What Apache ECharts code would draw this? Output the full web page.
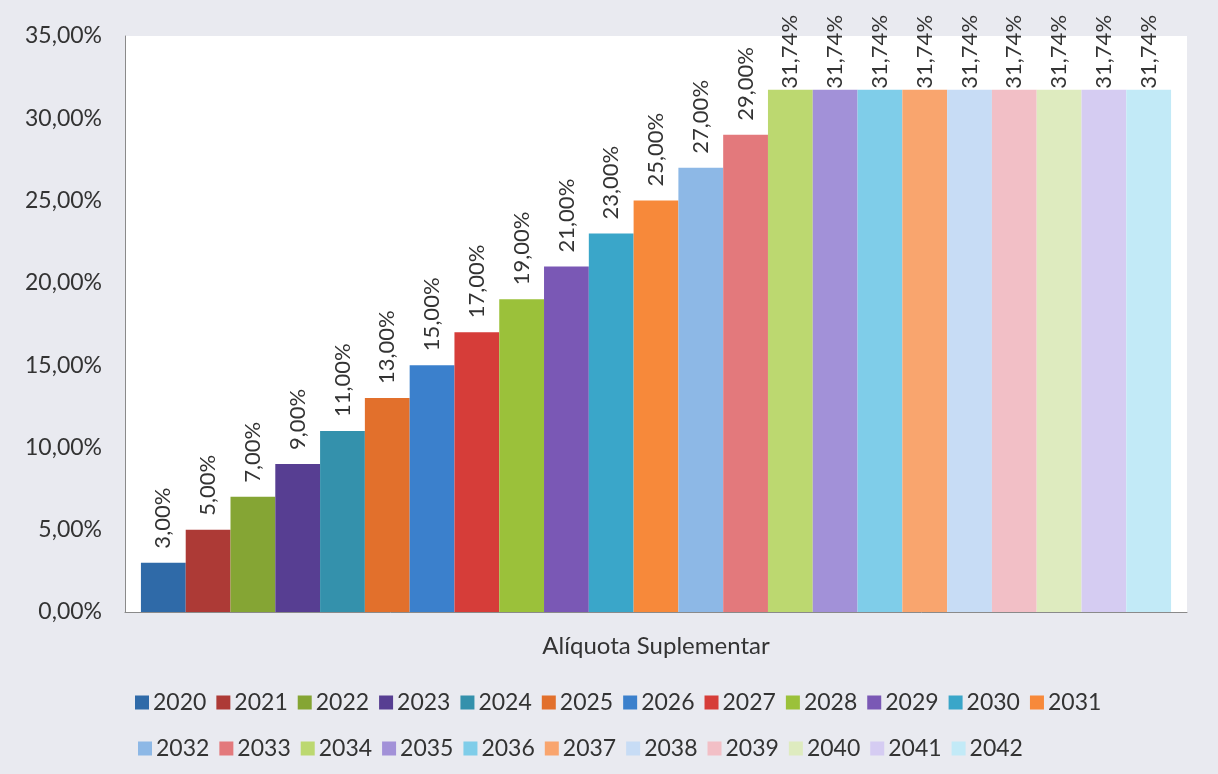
<!DOCTYPE html>
<html>
<head>
<meta charset="utf-8">
<script src="https://cdn.jsdelivr.net/npm/echarts@6/dist/echarts.min.js"></script>
<style>
html,body{margin:0;padding:0;background:#e9eaf0;}
#main{width:1218px;height:774px;}
</style>
</head>
<body>
<div id="main"></div>
<script>
const category = ['Alíquota Suplementar'];
const years = ['2020','2021','2022','2023','2024','2025','2026','2027','2028','2029','2030','2031','2032','2033','2034','2035','2036','2037','2038','2039','2040','2041','2042'];
const values = [3, 5, 7, 9, 11, 13, 15, 17, 19, 21, 23, 25, 27, 29, 31.74, 31.74, 31.74, 31.74, 31.74, 31.74, 31.74, 31.74, 31.74];
const yTicks = [0, 5, 10, 15, 20, 25, 30, 35];
const colors = ['#2f6aa8','#ad3a36','#85a534','#573e92','#3491ac','#e2702c','#3b80cc','#d63d39','#9bc13a','#7a58b5','#3aa6c9','#f7893a','#8db8e6','#e3797c','#bcd870','#a291d8','#7fcde9','#f9a56e','#c7dcf5','#f2bfc6','#deebbf','#d5ccf2','#c2eaf7'];

const fmt = v => v.toFixed(2).replace('.', ',') + '%';
const font = 'Lato, "Noto Sans", sans-serif';

const series = years.map((y, i) => ({
  name: y,
  type: 'bar',
  data: [values[i]],
  barGap: '0%',
  barCategoryGap: '3%',
  itemStyle: { color: colors[i] },
  label: {
    show: true,
    position: 'top',
    rotate: 90,
    align: 'left',
    verticalAlign: 'middle',
    distance: values[i] > 30 ? 1 : 14,
    formatter: p => fmt(p.value),
    color: '#333',
    fontSize: 22,
    fontFamily: font
  }
}));

const legendBase = {
  itemWidth: 14, itemHeight: 14, itemGap: 10,
  icon: 'rect',
  textStyle: { color: '#333', fontSize: 23, fontFamily: font, padding: [0, 0, 0, -1] }
};

const chart = echarts.init(document.getElementById('main'));
chart.setOption({
  backgroundColor: '#e9eaf0',
  animation: false,
  color: colors,
  grid: { left: 125, right: 31, top: 36, bottom: 162, show: true, backgroundColor: '#ffffff', borderWidth: 0 },
  xAxis: {
    type: 'category',
    data: category,
    axisLine: { show: true, lineStyle: { color: '#8a8a8a', width: 1 } },
    axisTick: { show: false },
    axisLabel: { margin: 22, color: '#333', fontSize: 24, fontFamily: font }
  },
  yAxis: {
    type: 'value',
    min: yTicks[0],
    max: yTicks[yTicks.length - 1],
    interval: 5,
    axisLine: { show: true, lineStyle: { color: '#8a8a8a', width: 1 } },
    axisTick: { show: false },
    splitLine: { show: false },
    axisLabel: { margin: 23, color: '#333', fontSize: 23, fontFamily: font, formatter: v => fmt(v) }
  },
  legend: [
    Object.assign({ data: years.slice(0, 12), left: 130, top: 686 }, legendBase),
    Object.assign({ data: years.slice(12), left: 133, top: 732 }, legendBase)
  ],
  series: series
});
</script>
</body>
</html>
